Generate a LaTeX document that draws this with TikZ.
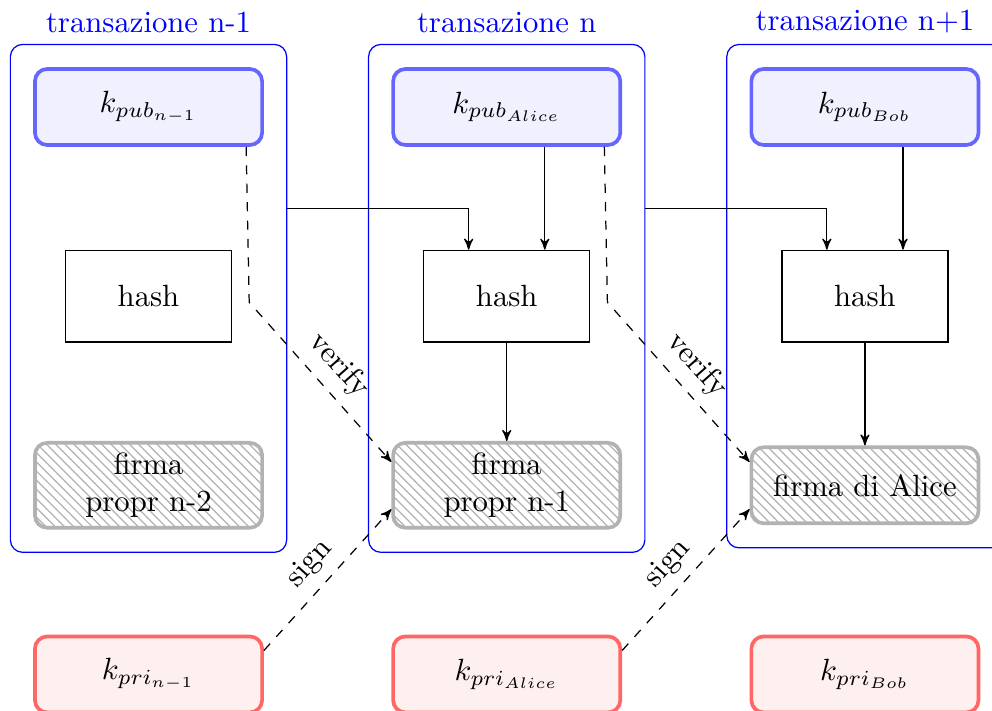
\documentclass[tikz,border=0pt]{standalone}
\usepackage{tikz}
\usetikzlibrary{positioning,shapes,arrows,fit,calc,patterns}

\begin{document}
\begin{tikzpicture}[node distance=2.165cm and 4.1cm, on grid, auto]
	\tikzset{
		mynode/.style={rectangle,rounded corners,very thick,minimum width=2.6cm,minimum height=0.87cm,text centered},
		mypub/.style={mynode,draw=blue!60,fill=blue!6},
		mypri/.style={mynode,draw=red!60,fill=red!6},
		myfirma/.style={mynode,draw=black!30,pattern=north west lines,pattern color=black!30,align=center},
		myhash/.style={rectangle,draw,minimum width=1.9cm,minimum height=1.05cm},
		mybox/.style={rectangle,rounded corners,draw=blue,inner sep=7.4pt},
		mytitle/.style={text=blue},
		myarrow/.style={->, >=stealth'},
		mydash/.style={myarrow, dashed}
	}
	\useasboundingbox (-48.37pt,34.85pt) rectangle (274.7pt,-196.7pt);

	\node[mypub] (pub1) {$k_{pub_{n-1}}$};
	\node[myhash, below=of pub1] (hash1) {hash};
	\node[myfirma, below=of hash1] (firma1) {firma\\propr n-2};
	\node[mypri, below=of firma1] (pri1) {$k_{pri_{n-1}}$};

	\node[mypub, right=of pub1] (pub2) {$k_{pub_{Alice}}$};
	\node[myhash, below=of pub2] (hash2) {hash};
	\node[myfirma, below=of hash2] (firma2) {firma\\propr n-1};
	\node[mypri, below=of firma2] (pri2) {$k_{pri_{Alice}}$};

	\node[mypub, right=of pub2] (pub3) {$k_{pub_{Bob}}$};
	\node[myhash, below=of pub3] (hash3) {hash};
	\node[myfirma, below=of hash3] (firma3) {firma di Alice};
	\node[mypri, below=of firma3] (pri3) {$k_{pri_{Bob}}$};

	\node[mybox, fit=(pub1) (hash1) (firma1), label={[mytitle]above:transazione n-1}] (tr1) {};
	\node[mybox, fit=(pub2) (hash2) (firma2), label={[mytitle]above:transazione n}] (tr2) {};
	\node[mybox, fit=(pub3) (hash3) (firma3), label={[mytitle]above:transazione n+1}] (tr3) {};

	\draw[myarrow] ($(hash1.north -| tr1.east)+(0,13.4pt)$) -| ([xshift=-12.4pt]hash2.north);
	\draw[myarrow] ([xshift=12.4pt]pub2.south) -- ([xshift=12.4pt]hash2.north);
	\draw[myarrow] (hash2) -- (firma2);
	\draw[mydash] ([xshift=-5.8pt]pub1.south east) -- ($(pub1.south east |- hash1.center)+(-4.8pt,-2pt)$) -- node[sloped, above] {verify} ([yshift=7.6pt]firma2.west);
	\draw[mydash] ([yshift=7.8pt]pri1.east) -- node[sloped, above] {sign} ([yshift=-7.8pt]firma2.west);

	\draw[myarrow] ($(hash2.north -| tr2.east)+(0,13.4pt)$) -| ([xshift=-12.4pt]hash3.north);
	\draw[myarrow] ([xshift=12.4pt]pub3.south) -- ([xshift=12.4pt]hash3.north);
	\draw[myarrow] (hash3) -- (firma3);
	\draw[mydash] ([xshift=-5.8pt]pub2.south east) -- ($(pub2.south east |- hash2.center)+(-4.8pt,-2pt)$) -- node[sloped, above] {verify} ([yshift=7.6pt]firma3.west);
	\draw[mydash] ([yshift=7.8pt]pri2.east) -- node[sloped, above] {sign} ([yshift=-7.8pt]firma3.west);

\end{tikzpicture}
\end{document}
